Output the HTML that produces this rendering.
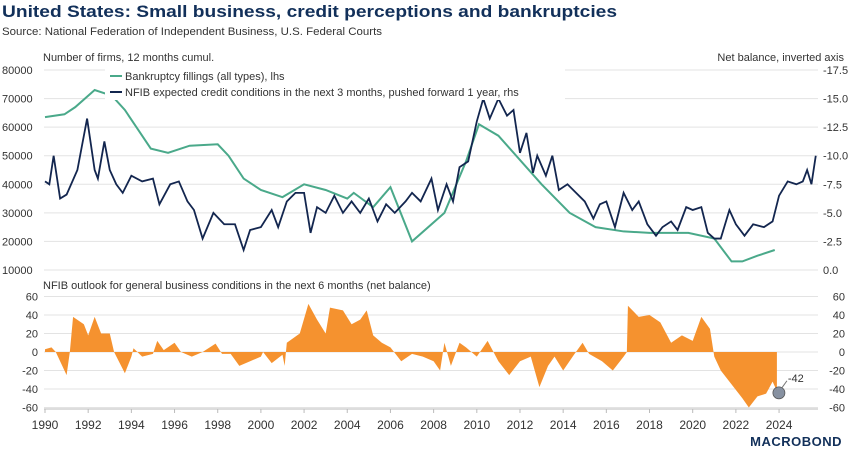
<!DOCTYPE html>
<html><head><meta charset="utf-8"><style>
html,body{margin:0;padding:0;background:#fff;}
svg{display:block;font-family:"Liberation Sans",sans-serif;}
</style></head><body>
<svg id="chart" width="850" height="453" viewBox="0 0 850 453">
<text x="2" y="17" font-size="17" font-weight="bold" fill="#12305a" textLength="615" lengthAdjust="spacingAndGlyphs">United States: Small business, credit perceptions and bankruptcies</text>
<text x="2" y="35" font-size="11" fill="#333" textLength="380" lengthAdjust="spacingAndGlyphs">Source: National Federation of Independent Business, U.S. Federal Courts</text>
<text x="43" y="61" font-size="11" fill="#333">Number of firms, 12 months cumul.</text>
<text x="844" y="61" font-size="11" fill="#333" text-anchor="end">Net balance, inverted axis</text>
<text x="43" y="289" font-size="11" fill="#333">NFIB outlook for general business conditions in the next 6 months (net balance)</text>
<g id="g-top"></g>
<g id="g-bot"></g>
<g>
<rect x="105" y="64" width="460" height="36" fill="#fff"/>
<line x1="110" y1="76" x2="122" y2="76" stroke="#4aa98a" stroke-width="2"/>
<text x="125" y="80" font-size="11" fill="#333">Bankruptcy fillings (all types), lhs</text>
<line x1="110" y1="92" x2="122" y2="92" stroke="#13264f" stroke-width="2"/>
<text x="125" y="96" font-size="11" fill="#333">NFIB expected credit conditions in the next 3 months, pushed forward 1 year, rhs</text>
</g>
<text x="842" y="446" font-size="13" font-weight="bold" fill="#12305a" text-anchor="end" letter-spacing="0.5">MACROBOND</text>
</svg>
<script>
const lhsTicks=[10000,20000,30000,40000,50000,60000,70000,80000];
const rhsTicks=["0.0","-2.5","-5.0","-7.5","-10.0","-12.5","-15.0","-17.5"];
const botTicks=[-60,-40,-20,0,20,40,60];
const yearTicks=[1990,1992,1994,1996,1998,2000,2002,2004,2006,2008,2010,2012,2014,2016,2018,2020,2022,2024];
const greenYears=[1990,1990.9,1991.4,1992.3,1993.1,1993.7,1994.9,1995.7,1996.7,1998,1998.5,1999.2,2000,2001,2002,2003,2004,2004.3,2005.2,2006,2007,2008.5,2009.5,2010.1,2011,2013,2014.3,2015.5,2016.8,2018,2019.8,2021,2021.8,2022.3,2023,2023.8];
const greenVals=[63500,64500,67000,73000,71000,66000,52500,51000,53500,54000,50000,42000,38000,35500,40000,38000,35000,37000,32000,39000,20000,30000,48000,61000,57000,40000,30000,25000,23500,23000,23000,21000,13000,13000,15000,17000];
const navyYears=[1990,1990.2,1990.4,1990.7,1991,1991.5,1991.95,1992.3,1992.45,1992.75,1993,1993.3,1993.6,1994,1994.5,1995,1995.3,1995.8,1996.2,1996.6,1996.9,1997.3,1997.8,1998.3,1998.8,1999.2,1999.5,2000,2000.5,2000.8,2001.2,2001.6,2002,2002.3,2002.6,2003,2003.4,2003.8,2004.2,2004.6,2005,2005.4,2005.8,2006.2,2006.7,2007,2007.4,2007.9,2008.2,2008.6,2008.9,2009.2,2009.6,2010,2010.3,2010.6,2011,2011.4,2011.7,2012,2012.3,2012.6,2012.8,2013.2,2013.5,2013.8,2014.2,2014.6,2015,2015.4,2015.7,2016,2016.4,2016.8,2017.2,2017.5,2017.9,2018.3,2018.6,2019,2019.3,2019.7,2020,2020.4,2020.7,2021,2021.3,2021.7,2022,2022.4,2022.8,2023.3,2023.7,2024,2024.4,2024.8,2025.1,2025.3,2025.5,2025.7];
const navyVals=[-7.75,-7.5,-10,-6.25,-6.6,-8.75,-13.25,-8.75,-8,-11.25,-8.75,-7.5,-6.75,-8.25,-7.75,-8,-5.75,-7.5,-7.75,-6,-5.25,-2.75,-5,-4,-4,-1.75,-3.5,-3.75,-5.25,-3.75,-6,-6.75,-6.75,-3.25,-5.5,-5,-6.5,-5,-6,-5,-6.25,-4.25,-5.75,-5,-6,-6.75,-6,-8,-5.25,-7.5,-6,-9,-9.5,-13,-15,-13.25,-15,-13.5,-14,-10.25,-12,-8.5,-10,-8.25,-10,-7,-7.5,-6.75,-6,-4.5,-5.75,-6,-3.75,-6.75,-5.25,-6,-4,-3,-3.75,-4.25,-3.5,-5.5,-5.25,-5.5,-3.25,-2.75,-2.75,-5.25,-4,-3,-4,-3.75,-4.25,-6.5,-7.75,-7.5,-7.75,-8.75,-7.5,-10];
const outYears=[1990,1990.3,1990.5,1990.8,1991,1991.15,1991.3,1991.8,1992,1992.3,1992.6,1993,1993.2,1993.7,1994,1994.1,1994.5,1995,1995.2,1995.5,1996,1996.3,1996.8,1997.3,1997.9,1998.2,1998.6,1999,1999.5,2000,2000.1,2000.5,2001,2001.1,2001.2,2001.8,2002.2,2002.6,2003,2003.2,2003.8,2004.2,2004.6,2004.9,2005.2,2005.6,2006,2006.5,2007,2007.5,2008,2008.3,2008.5,2008.8,2009.2,2009.5,2010,2010.5,2011,2011.5,2012,2012.5,2012.9,2013.3,2013.6,2014,2014.5,2014.9,2015.2,2015.8,2016.3,2016.8,2016.95,2017,2017.5,2018,2018.5,2019,2019.5,2020,2020.4,2020.8,2021,2021.3,2021.8,2022.3,2022.6,2023,2023.4,2023.7,2023.9];
const outVals=[3,5,0,-15,-25,0,38,30,18,38,20,20,0,-23,-5,4,-5,-2,12,2,10,0,-5,0,9,-2,-2,-15,-10,-5,0,-12,-3,-15,10,20,52,35,20,48,45,30,35,45,18,10,5,-10,-2,-5,-10,-20,10,-15,10,5,-5,12,-10,-25,-10,-5,-38,-15,-5,-20,-3,10,-2,-10,-20,-5,0,50,38,40,32,10,18,12,38,25,-5,-20,-35,-50,-60,-48,-45,-32,-42];
const lastLabel="-42";

const NS="http://www.w3.org/2000/svg";
const X0=44,X1=818;
const xs=y=>45+(y-1990)*21.59;
const yTop=v=>270-(v-10000)/70000*200;
const yR=v=>270-(-v)/17.5*200;
const yB=v=>352-v/60*55.5;
function mk(tag,attrs,parent){const e=document.createElementNS(NS,tag);for(const k in attrs)e.setAttribute(k,attrs[k]);parent.appendChild(e);return e;}
const gt=document.getElementById('g-top'),gb=document.getElementById('g-bot');
lhsTicks.forEach((v,i)=>{
  const l=mk('line',{x1:X0,x2:X1,y1:yTop(v),y2:yTop(v),stroke:'#e3e3e3','stroke-width':1},gt);
  
  
  const t=mk('text',{x:2,y:yTop(v)+4,'font-size':11,fill:'#333'},gt);t.textContent=v;
  
  
  const r=mk('text',{x:823,y:yTop(v)+4,'font-size':11,fill:'#333'},gt);r.textContent=rhsTicks[i];
  
  
});
const gp=mk('polyline',{points:greenYears.map((y,i)=>xs(y)+','+yTop(greenVals[i])).join(' '),fill:'none',stroke:'#4aa98a','stroke-width':2},gt);


const np=mk('polyline',{points:navyYears.map((y,i)=>xs(y)+','+yR(navyVals[i])).join(' '),fill:'none',stroke:'#13264f','stroke-width':1.8},gt);


botTicks.forEach(v=>{
  const l=mk('line',{x1:X0,x2:X1,y1:yB(v),y2:yB(v),stroke:'#e3e3e3','stroke-width':1},gb);
  
  
  const t=mk('text',{x:38,y:yB(v)+4,'font-size':11,fill:'#333','text-anchor':'end'},gb);t.textContent=v;
  
  
  const r=mk('text',{x:845,y:yB(v)+4,'font-size':11,fill:'#333','text-anchor':'end'},gb);r.textContent=v;
  
  
});
let pts=xs(outYears[0])+','+yB(0)+' '+outYears.map((y,i)=>xs(y)+','+yB(outVals[i])).join(' ')+' '+xs(outYears[outYears.length-1])+','+yB(0);
const ar=mk('polygon',{points:pts,fill:'#f5922f'},gb);


const ax=mk('line',{x1:X0,x2:X1,y1:409,y2:409,stroke:'#bbb','stroke-width':1},gb);


yearTicks.forEach(y=>{
  const tk=mk('line',{x1:xs(y),x2:xs(y),y1:409,y2:413,stroke:'#bbb'},gb);
  
  
  const t=mk('text',{x:xs(y),y:429,'font-size':12,fill:'#333','text-anchor':'middle'},gb);t.textContent=y;
  
  
});
const ly=outYears[outYears.length-1],lv=outVals[outVals.length-1];
const c=mk('circle',{cx:xs(ly)+2,cy:yB(lv)+2,r:6,fill:'#7a8597',stroke:'#555','stroke-width':0.8,'fill-opacity':0.9},gb);


const cl=mk('line',{x1:xs(ly)+5,y1:yB(lv)-3,x2:xs(ly)+10,y2:yB(lv)-10,stroke:'#777'},gb);


const lt=mk('text',{x:xs(ly)+11,y:yB(lv)-9,'font-size':11,fill:'#333'},gb);lt.textContent=lastLabel;


</script>
</body></html>
